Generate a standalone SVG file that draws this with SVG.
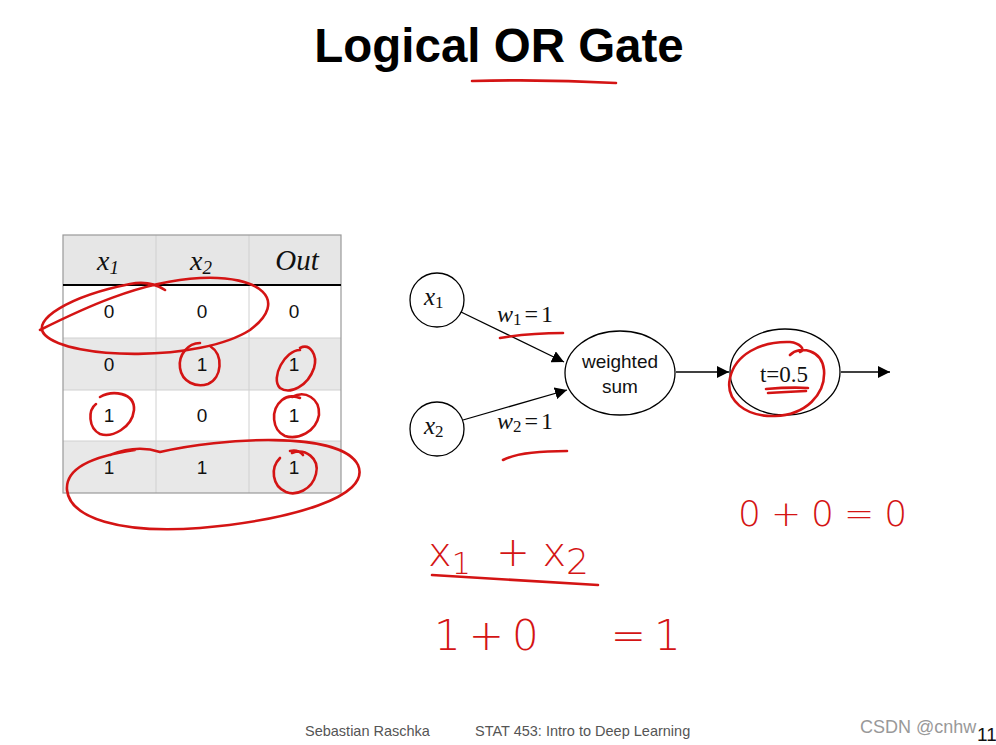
<svg xmlns="http://www.w3.org/2000/svg" width="996" height="745" viewBox="0 0 996 745">
<style>
.cell{font-family:"Liberation Sans",Arial,sans-serif;font-size:19px;text-anchor:middle;fill:#111}
.math{font-family:"Liberation Serif","Times New Roman",serif;fill:#111}
.node{fill:#fff;stroke:#000;stroke-width:1.3}
.edge{stroke:#000;stroke-width:1.3;fill:none;marker-end:url(#ah)}
.ink{fill:none;stroke:#d41414;stroke-width:2.6;stroke-linecap:round;stroke-linejoin:round}
.hand{font-family:"DejaVu Sans",sans-serif;fill:#d41414;font-weight:300}
.foot{font-family:"Liberation Sans",Arial,sans-serif;font-size:14.5px;fill:#555}
</style>
<defs>
<marker id="ah" viewBox="0 0 10 10" refX="10" refY="5" markerWidth="12" markerHeight="12" markerUnits="userSpaceOnUse" orient="auto">
<path d="M0,0 L10,5 L0,10 z" fill="#000"/>
</marker>
</defs>
<rect width="996" height="745" fill="#fff"/>

<g id="title">
<text x="499" y="62" font-family="Liberation Sans,Arial,sans-serif" font-size="47.5" font-weight="bold" text-anchor="middle" fill="#000">Logical OR Gate</text>
</g>

<g id="truth-table">
<rect x="63" y="235" width="278" height="50" fill="#e6e6e6"/>
<rect x="63" y="285" width="278" height="53" fill="#fff"/>
<rect x="63" y="338" width="278" height="52" fill="#e8e8e8"/>
<rect x="63" y="390" width="278" height="51" fill="#fff"/>
<rect x="63" y="441" width="278" height="52" fill="#e8e8e8"/>
<g stroke="#d0d0d0" stroke-width="1">
<line x1="156" y1="235" x2="156" y2="493"/>
<line x1="249" y1="235" x2="249" y2="493"/>
<line x1="63" y1="338" x2="341" y2="338"/>
<line x1="63" y1="390" x2="341" y2="390"/>
<line x1="63" y1="441" x2="341" y2="441"/>
</g>
<rect x="63" y="235" width="278" height="258" fill="none" stroke="#999" stroke-width="1.2"/>
<line x1="63" y1="285" x2="341" y2="285" stroke="#000" stroke-width="2"/>
<text class="math" x="97" y="270" font-size="28" font-style="italic">x<tspan font-size="19" dy="4">1</tspan></text>
<text class="math" x="190" y="270" font-size="28" font-style="italic">x<tspan font-size="19" dy="4">2</tspan></text>
<text class="math" x="297" y="270" font-size="29" font-style="italic" text-anchor="middle">Out</text>
<text class="cell" x="109" y="318">0</text><text class="cell" x="202" y="318">0</text><text class="cell" x="294" y="318">0</text>
<text class="cell" x="109" y="371">0</text><text class="cell" x="202" y="371">1</text><text class="cell" x="294" y="371">1</text>
<text class="cell" x="109" y="422">1</text><text class="cell" x="202" y="422">0</text><text class="cell" x="294" y="422">1</text>
<text class="cell" x="109" y="474">1</text><text class="cell" x="202" y="474">1</text><text class="cell" x="294" y="474">1</text>
</g>

<g id="node-x1">
<circle class="node" cx="437" cy="300" r="27"/>
<text class="math" x="424" y="305" font-size="25" font-style="italic">x<tspan font-size="17" dy="3" font-style="normal">1</tspan></text>
</g>
<g id="node-x2">
<circle class="node" cx="437" cy="429" r="27"/>
<text class="math" x="424" y="434" font-size="25" font-style="italic">x<tspan font-size="17" dy="3" font-style="normal">2</tspan></text>
</g>
<g id="node-sum">
<ellipse class="node" cx="620" cy="373" rx="55" ry="42"/>
<text class="cell" x="620" y="368" font-size="19">weighted</text>
<text class="cell" x="620" y="393" font-size="19">sum</text>
</g>
<g id="node-threshold">
<ellipse class="node" cx="785" cy="372" rx="55" ry="43"/>
<text class="math" x="784" y="382" font-size="23" text-anchor="middle">t=0.5</text>
</g>

<g id="connectors">
<line class="edge" x1="461" y1="312" x2="564" y2="362"/>
<line class="edge" x1="463" y1="420" x2="567" y2="390"/>
<line class="edge" x1="676" y1="372" x2="729" y2="372"/>
<line class="edge" x1="841" y1="372" x2="890" y2="372"/>
<text class="math" x="497" y="322" font-size="24" font-style="italic">w<tspan font-size="17" dy="3" font-style="normal">1</tspan><tspan dy="-3" dx="3" font-style="normal" letter-spacing="3">=1</tspan></text>
<text class="math" x="497" y="429" font-size="24" font-style="italic">w<tspan font-size="17" dy="3" font-style="normal">2</tspan><tspan dy="-3" dx="3" font-style="normal" letter-spacing="3">=1</tspan></text>
</g>

<g id="annotations">
<path class="ink" d="M472,81 Q545,79 616,83"/>
<path class="ink" d="M165,290 Q150,280 130,284 C70,296 30,320 45,335 C70,360 200,362 250,330 C290,300 260,275 200,278 C140,281 80,310 40,330"/>
<path class="ink" d="M200,343 C188,343 178,355 180,368 C182,382 196,388 208,384 C222,378 224,355 210,346"/>
<path class="ink" d="M300,348 C310,343 318,355 314,368 C308,386 290,395 280,388 C270,378 285,350 300,350"/>
<path class="ink" d="M100,397 C112,390 135,392 134,410 C132,428 112,438 100,434 C88,428 88,410 96,404"/>
<path class="ink" d="M292,397 C305,390 320,398 319,415 C316,432 298,440 285,436 C272,430 270,410 282,400 C288,395 296,396 300,398"/>
<path class="ink" d="M292,453 C305,448 320,458 316,474 C312,490 296,496 286,492 C272,486 270,468 280,458 M290,451 Q298,449 303,455"/>
<path class="ink" d="M110,455 C130,447 145,447 160,452 C220,438 340,430 358,465 C372,497 290,520 200,528 C120,534 70,518 67,490 C65,465 100,455 135,450"/>
<path class="ink" d="M500,338 Q530,333 563,333"/>
<path class="ink" d="M503,460 Q520,451 567,451"/>
<path class="ink" d="M790,355 C800,345 822,350 824,370 C826,395 805,415 775,416 C745,417 725,400 730,378 C735,355 760,341 790,342 C800,343 806,350 800,352"/>
<path class="ink" d="M766,389 Q790,387 808,388 M768,393 Q785,392 806,391"/>
<path class="ink" d="M432,575 Q515,580 598,585"/>
<text class="hand" x="738" y="526" font-size="36" letter-spacing="10">0+0=0</text>
<text class="hand" x="428" y="566" font-size="40">x<tspan font-size="30" dy="8">1</tspan><tspan dy="-8" xml:space="preserve">  + x</tspan><tspan font-size="36" dy="8">2</tspan></text>
<text class="hand" x="434" y="650" font-size="42" letter-spacing="8" xml:space="preserve">1+0   =1</text>
</g>

<g id="footer">
<text class="foot" x="305" y="736">Sebastian Raschka</text>
<text class="foot" x="475" y="736">STAT 453: Intro to Deep Learning</text>
<text x="860" y="733" font-family="Liberation Sans,Arial,sans-serif" font-size="18" fill="#999">CSDN @cnhw</text>
<text x="977" y="741" font-family="Liberation Sans,Arial,sans-serif" font-size="19" fill="#111">11</text>
</g>
</svg>
